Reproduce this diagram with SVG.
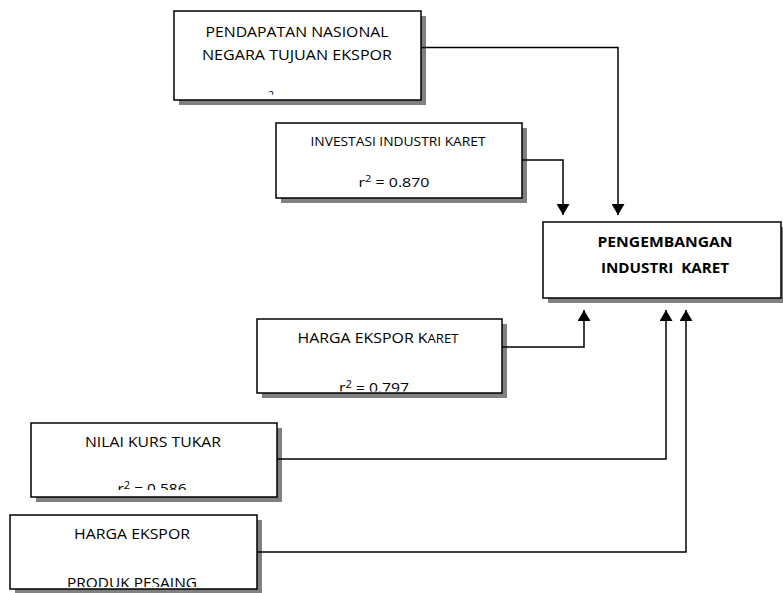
<svg xmlns="http://www.w3.org/2000/svg" width="783" height="593" viewBox="0 0 783 593">
<style>
.box{fill:#ffffff;stroke:#000000;stroke-width:1.5}
.t{font-family:"Open Sans","Liberation Sans",sans-serif;font-size:14.5px;fill:#000000;text-anchor:middle}
.s{font-size:13px}
.b{font-weight:bold;font-size:14px}
.c{fill:none;stroke:#000000;stroke-width:1.5}
</style>
<defs>
<marker id="ah" markerUnits="userSpaceOnUse" markerWidth="13" markerHeight="13" refX="11" refY="6.5" orient="auto" viewBox="0 0 11 13">
<path d="M0,0 L11,6.5 L0,13 z" fill="#000000"/>
</marker>
<clipPath id="c1"><rect x="174" y="11" width="247" height="84"/></clipPath>
<clipPath id="c3"><rect x="257" y="319" width="245" height="72.5"/></clipPath>
<clipPath id="c4"><rect x="31" y="423" width="246" height="67"/></clipPath>
<clipPath id="c5"><rect x="10" y="515" width="247" height="72"/></clipPath>
</defs>
<g id="n1">
<rect x="179" y="16" width="247" height="89" fill="#808080"/>
<rect class="box" x="174" y="11" width="247" height="89"/>
<text class="t" x="297" y="37" textLength="183" lengthAdjust="spacingAndGlyphs">PENDAPATAN NASIONAL</text>
<text class="t" x="297" y="60" textLength="190" lengthAdjust="spacingAndGlyphs">NEGARA TUJUAN EKSPOR</text>
<text class="t" x="271" y="99" clip-path="url(#c1)" style="font-size:10px">2</text>
</g>
<g id="n2">
<rect x="281" y="128" width="246" height="75" fill="#808080"/>
<rect class="box" x="276" y="123" width="246" height="75"/>
<text class="t s" x="398" y="146" textLength="175" lengthAdjust="spacingAndGlyphs">INVESTASI INDUSTRI KARET</text>
<text class="t s" x="394" y="187" textLength="71" lengthAdjust="spacingAndGlyphs">r<tspan dy="-5" style="font-size:9px">2</tspan><tspan dy="5"> = 0.870</tspan></text>
</g>
<g id="n3">
<rect x="548" y="227" width="238" height="76" fill="#808080"/>
<rect class="box" x="543" y="222" width="238" height="76"/>
<text class="t b" x="665" y="247" textLength="135" lengthAdjust="spacingAndGlyphs">PENGEMBANGAN</text>
<text class="t b" x="665" y="273" textLength="128" lengthAdjust="spacingAndGlyphs" xml:space="preserve">INDUSTRI  KARET</text>
</g>
<g id="n4">
<rect x="262" y="324" width="245" height="74" fill="#808080"/>
<rect class="box" x="257" y="319" width="245" height="74"/>
<text class="t" x="378" y="343" textLength="161" lengthAdjust="spacingAndGlyphs">HARGA EKSPOR K<tspan style="font-size:12px">ARET</tspan></text>
<text class="t" x="374" y="393" clip-path="url(#c3)" textLength="70" lengthAdjust="spacingAndGlyphs" style="font-size:14px">r<tspan dy="-5" style="font-size:10px">2</tspan><tspan dy="5"> = 0.797</tspan></text>
</g>
<g id="n5">
<rect x="36" y="428" width="246" height="74" fill="#808080"/>
<rect class="box" x="31" y="423" width="246" height="74"/>
<text class="t" x="153" y="447" textLength="136" lengthAdjust="spacingAndGlyphs">NILAI KURS TUKAR</text>
<text class="t" x="152" y="494" clip-path="url(#c4)" textLength="69" lengthAdjust="spacingAndGlyphs" style="font-size:14px">r<tspan dy="-5" style="font-size:10px">2</tspan><tspan dy="5"> = 0.586</tspan></text>
</g>
<g id="n6">
<rect x="15" y="520" width="247" height="74" fill="#808080"/>
<rect class="box" x="10" y="515" width="247" height="74"/>
<text class="t" x="132" y="539" textLength="116" lengthAdjust="spacingAndGlyphs">HARGA EKSPOR</text>
<text class="t" x="132" y="588" clip-path="url(#c5)" textLength="130" lengthAdjust="spacingAndGlyphs">PRODUK PESAING</text>
</g>
<g id="connectors">
<path class="c" d="M421 47.5 H618 V215" marker-end="url(#ah)"/>
<path class="c" d="M522 160 H563 V215" marker-end="url(#ah)"/>
<path class="c" d="M502 347 H584 V310" marker-end="url(#ah)"/>
<path class="c" d="M277 459 H666 V310" marker-end="url(#ah)"/>
<path class="c" d="M257 552 H686 V310" marker-end="url(#ah)"/>
</g>
</svg>
